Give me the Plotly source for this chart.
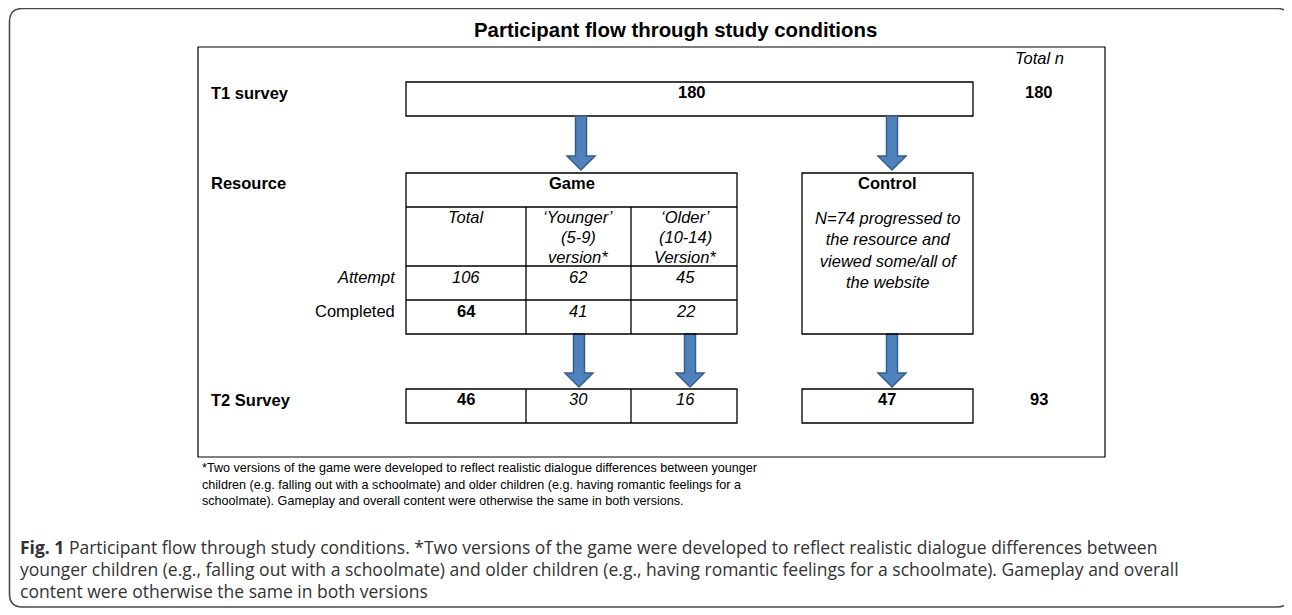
import plotly.graph_objects as go

# ---------------- data ----------------
title = "Participant flow through study conditions"
row_labels = ["T1 survey", "Resource", "T2 Survey"]
sub_row_labels = ["Attempt", "Completed"]
t1_total = 180
game_cols = [["Total"], ["\u2018Younger\u2019", "(5-9)", "version*"], ["\u2018Older\u2019", "(10-14)", "Version*"]]
attempt = [106, 62, 45]
completed = [64, 41, 22]
t2_game = [46, 30, 16]
control_viewed = 74
control_t2 = 47
t2_total = 93
footnote = ["*Two versions of the game were developed to reflect realistic dialogue differences between younger",
            "children (e.g. falling out with a schoolmate) and older children (e.g. having romantic feelings for a",
            "schoolmate). Gameplay and overall content were otherwise the same in both versions."]
caption = ["Participant flow through study conditions. *Two versions of the game were developed to reflect realistic dialogue differences between",
           "younger children (e.g., falling out with a schoolmate) and older children (e.g., having romantic feelings for a schoolmate). Gameplay and overall",
           "content were otherwise the same in both versions"]

# ---------------- layout geometry (page pixels) ----------------
W, H = 1292, 615
OFF = 8  # default body margin of the html page
FONT = "Liberation Sans, Arial, Helvetica, sans-serif"
FS = 16.5
col_edges = [406, 526, 631, 737]
col_centers = [466, 578, 685]
ctrl_x0, ctrl_x1, ctrl_c = 802, 973, 887
total_x = 1039

shapes = []
ann = []

def rect(x0, y0, x1, y1, color="black", w=1.3):
    shapes.append(dict(type="rect", x0=x0, y0=y0, x1=x1, y1=y1, xref="x", yref="y",
                       line=dict(color=color, width=w), fillcolor="rgba(0,0,0,0)"))

def hline(x0, x1, y, w=1.3):
    shapes.append(dict(type="line", x0=x0, x1=x1, y0=y, y1=y, xref="x", yref="y", line=dict(color="black", width=w)))

def vline(x, y0, y1, w=1.3):
    shapes.append(dict(type="line", x0=x, x1=x, y0=y0, y1=y1, xref="x", yref="y", line=dict(color="black", width=w)))

def text(x, y, s, bold=False, italic=False, xanchor="center", size=FS, font=FONT, color="black"):
    if bold:
        s = "<b>" + s + "</b>"
    if italic:
        s = "<i>" + s + "</i>"
    ann.append(dict(x=x, y=y, xref="x", yref="y", text=s, showarrow=False, xanchor=xanchor,
                    yanchor="middle", font=dict(family=font, size=size, color=color)))

def arrow(cx, y0, y1, shaft=11, head=28, headh=14):
    hs, hh = shaft / 2, head / 2
    yh = y1 - headh
    path = (f"M {cx-hs},{y0} L {cx+hs},{y0} L {cx+hs},{yh} L {cx+hh},{yh} L {cx},{y1} "
            f"L {cx-hh},{yh} L {cx-hs},{yh} Z")
    shapes.append(dict(type="path", path=path, xref="x", yref="y", fillcolor="#4F81BD",
                       line=dict(color="#385D8A", width=1.5)))

# outer rounded border
x0, y0, x1, y1, r = 9.5, 8.5, 1290, 607, 13
shapes.append(dict(type="path", xref="x", yref="y",
                   path=(f"M {x0+r},{y0} L {x1-r},{y0} Q {x1},{y0} {x1},{y0+r} L {x1},{y1-r} "
                         f"Q {x1},{y1} {x1-r},{y1} L {x0+r},{y1} Q {x0},{y1} {x0},{y1-r} "
                         f"L {x0},{y0+r} Q {x0},{y0} {x0+r},{y0} Z"),
                   line=dict(color="#4a4a4a", width=1.6), fillcolor="rgba(0,0,0,0)"))

# inner frame
rect(198, 47, 1105, 457, w=1.2)

# title
text(675, 30, title, bold=True, size=20.4)
text(total_x, 58, "Total n", italic=True)

# row labels
text(209, 93, row_labels[0], bold=True, xanchor="left")
text(209, 183, row_labels[1], bold=True, xanchor="left")
text(209, 400, row_labels[2], bold=True, xanchor="left")
text(398, 277, sub_row_labels[0], italic=True, xanchor="right")
text(397, 311, sub_row_labels[1], xanchor="right")

# T1 box
rect(406, 82, 973, 116)
text(692, 92, str(t1_total), bold=True)
text(total_x, 92, str(t1_total), bold=True)

# arrows
arrow(581, 116, 170)
arrow(892, 116, 170)
arrow(579, 334, 387)
arrow(690, 334, 387)
arrow(892, 334, 387)

# Game table
rect(406, 173, 737, 334)
text(572, 183, "Game", bold=True)
for y in (207, 266, 300):
    hline(406, 737, y)
for x in col_edges[1:3]:
    vline(x, 207, 334)
for i, lines in enumerate(game_cols):
    for j, ln in enumerate(lines):
        text(col_centers[i], 217 + 20 * j, ln, italic=True)
for i, v in enumerate(attempt):
    text(col_centers[i], 277, str(v), italic=True)
for i, v in enumerate(completed):
    text(col_centers[i], 311, str(v), bold=(i == 0), italic=(i != 0))

# Control box
rect(ctrl_x0, 173, ctrl_x1, 334)
text(ctrl_c, 183, "Control", bold=True)
ann.append(dict(x=ctrl_c, y=250, xref="x", yref="y", showarrow=False, xanchor="center", yanchor="middle",
                text=f"<i>N={control_viewed} progressed to<br>the resource and<br>viewed some/all of<br>the website</i>",
                font=dict(family=FONT, size=FS, color="black")))

# T2 boxes
rect(406, 389, 737, 423)
for x in col_edges[1:3]:
    vline(x, 389, 423)
for i, v in enumerate(t2_game):
    text(col_centers[i], 399, str(v), bold=(i == 0), italic=(i != 0))
rect(ctrl_x0, 389, ctrl_x1, 423)
text(ctrl_c, 399, str(control_t2), bold=True)
text(total_x, 399, str(t2_total), bold=True)

# footnote
for k, ln in enumerate(footnote):
    text(200, 468 + 16.5 * k, ln, xanchor="left", size=12.6)

# figure caption
CAP_FONT = "Open Sans, Noto Sans, sans-serif"
for k, ln in enumerate(caption):
    s = ("<b>Fig. 1</b> " + ln) if k == 0 else ln
    text(18, 547 + 22 * k, s, xanchor="left", size=17.5, font=CAP_FONT, color="#333333")

fig = go.Figure()
fig.update_layout(width=W - OFF, height=H - OFF, margin=dict(l=0, r=0, t=0, b=0),
                  paper_bgcolor="white", plot_bgcolor="white",
                  xaxis=dict(range=[OFF, W], visible=False, fixedrange=True),
                  yaxis=dict(range=[H, OFF], visible=False, fixedrange=True),
                  shapes=shapes, annotations=ann, showlegend=False)
fig.write_html("out.html")
